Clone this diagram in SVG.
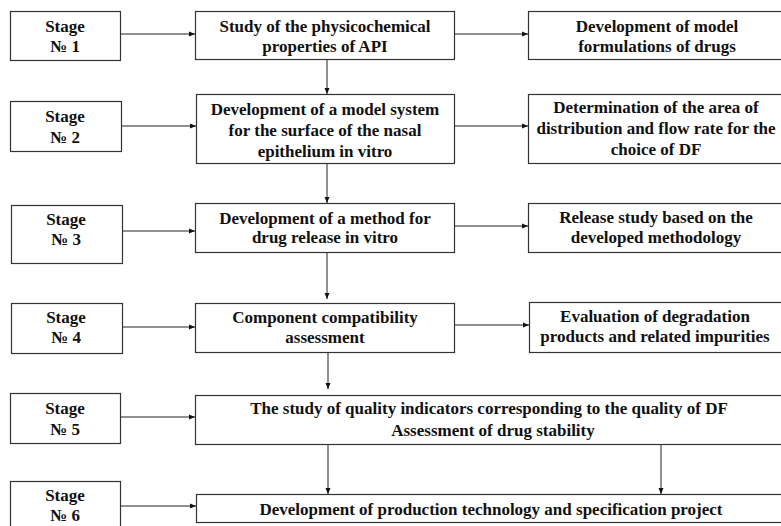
<svg xmlns="http://www.w3.org/2000/svg" width="781" height="526" viewBox="0 0 781 526">
<defs>
<marker id="ah" markerWidth="6" markerHeight="6" refX="6" refY="3" orient="auto" markerUnits="userSpaceOnUse">
<path d="M0,0.5 L6,3 L0,5.5 Z" fill="#111"/>
</marker>
<style>
rect{fill:#fff;stroke:#333;stroke-width:1.2}
text{font-family:"Liberation Serif","Times New Roman",serif;font-weight:bold;font-size:17px;fill:#111;text-anchor:middle}
.c line{stroke:#222;stroke-width:1;marker-end:url(#ah)}
</style>
</defs>
<rect x="0" y="0" width="781" height="526" style="fill:#fff;stroke:none"/>
<g id="s1"><rect x="10.5" y="11.5" width="110" height="49"/><text x="65" y="32">Stage</text><text x="65" y="52">№ 1</text></g>
<g id="s2"><rect x="10.5" y="101.5" width="111" height="50"/><text x="65" y="122">Stage</text><text x="65" y="143">№ 2</text></g>
<g id="s3"><rect x="11.5" y="205.5" width="111" height="58"/><text x="66" y="225">Stage</text><text x="66" y="245">№ 3</text></g>
<g id="s4"><rect x="11.5" y="303.5" width="111" height="50"/><text x="66" y="323">Stage</text><text x="66" y="343">№ 4</text></g>
<g id="s5"><rect x="10.5" y="393.5" width="110" height="50"/><text x="65" y="414">Stage</text><text x="65" y="435">№ 5</text></g>
<g id="s6"><rect x="10.5" y="481.5" width="110" height="50"/><text x="65" y="501">Stage</text><text x="65" y="521">№ 6</text></g>

<g id="b1"><rect x="195.5" y="11.5" width="259" height="48"/><text x="325" y="32">Study of the physicochemical</text><text x="325" y="52">properties of API</text></g>
<g id="b2"><rect x="196.5" y="94.5" width="258" height="69"/><text x="325" y="115">Development of a model system</text><text x="325" y="136">for the surface of the nasal</text><text x="325" y="157">epithelium in vitro</text></g>
<g id="b3"><rect x="195.5" y="203.5" width="259" height="49"/><text x="325" y="224">Development of a method for</text><text x="325" y="243">drug release in vitro</text></g>
<g id="b4"><rect x="195.5" y="303.5" width="259" height="49"/><text x="325" y="323">Component compatibility</text><text x="325" y="343">assessment</text></g>
<g id="b5"><rect x="195.5" y="395.5" width="590" height="49"/><text x="489" y="414">The study of quality indicators corresponding to the quality of DF</text><text x="493" y="436">Assessment of drug stability</text></g>
<g id="b6"><rect x="196.5" y="494.5" width="590" height="28"/><text x="491" y="515">Development of production technology and specification project</text></g>

<g id="r1"><rect x="528.5" y="11.5" width="260" height="48"/><text x="657" y="32">Development of model</text><text x="657" y="52">formulations of drugs</text></g>
<g id="r2"><rect x="528.5" y="94.5" width="260" height="69"/><text x="656" y="113">Determination of the area of</text><text x="656" y="134">distribution and flow rate for the</text><text x="656" y="155">choice of DF</text></g>
<g id="r3"><rect x="528.5" y="203.5" width="260" height="49"/><text x="656" y="223">Release study based on the</text><text x="656" y="243">developed methodology</text></g>
<g id="r4"><rect x="529.5" y="302.5" width="260" height="50"/><text x="655" y="322">Evaluation of degradation</text><text x="655" y="342">products and related impurities</text></g>

<g class="c" id="connectors">
<line x1="121" y1="34" x2="195" y2="34"/>
<line x1="455" y1="34" x2="528" y2="34"/>
<line x1="327" y1="60" x2="327" y2="94"/>
<line x1="122" y1="126" x2="196" y2="126"/>
<line x1="455" y1="126" x2="528" y2="126"/>
<line x1="327" y1="164" x2="327" y2="203"/>
<line x1="123" y1="231" x2="195" y2="231"/>
<line x1="455" y1="226" x2="528" y2="226"/>
<line x1="327" y1="253" x2="327" y2="299"/>
<line x1="123" y1="327" x2="195" y2="327"/>
<line x1="455" y1="325" x2="529" y2="325"/>
<line x1="328" y1="353" x2="328" y2="389"/>
<line x1="121" y1="417" x2="195" y2="417"/>
<line x1="328" y1="445" x2="328" y2="494"/>
<line x1="661" y1="445" x2="661" y2="494"/>
<line x1="121" y1="506" x2="196" y2="506"/>
</g>
</svg>
